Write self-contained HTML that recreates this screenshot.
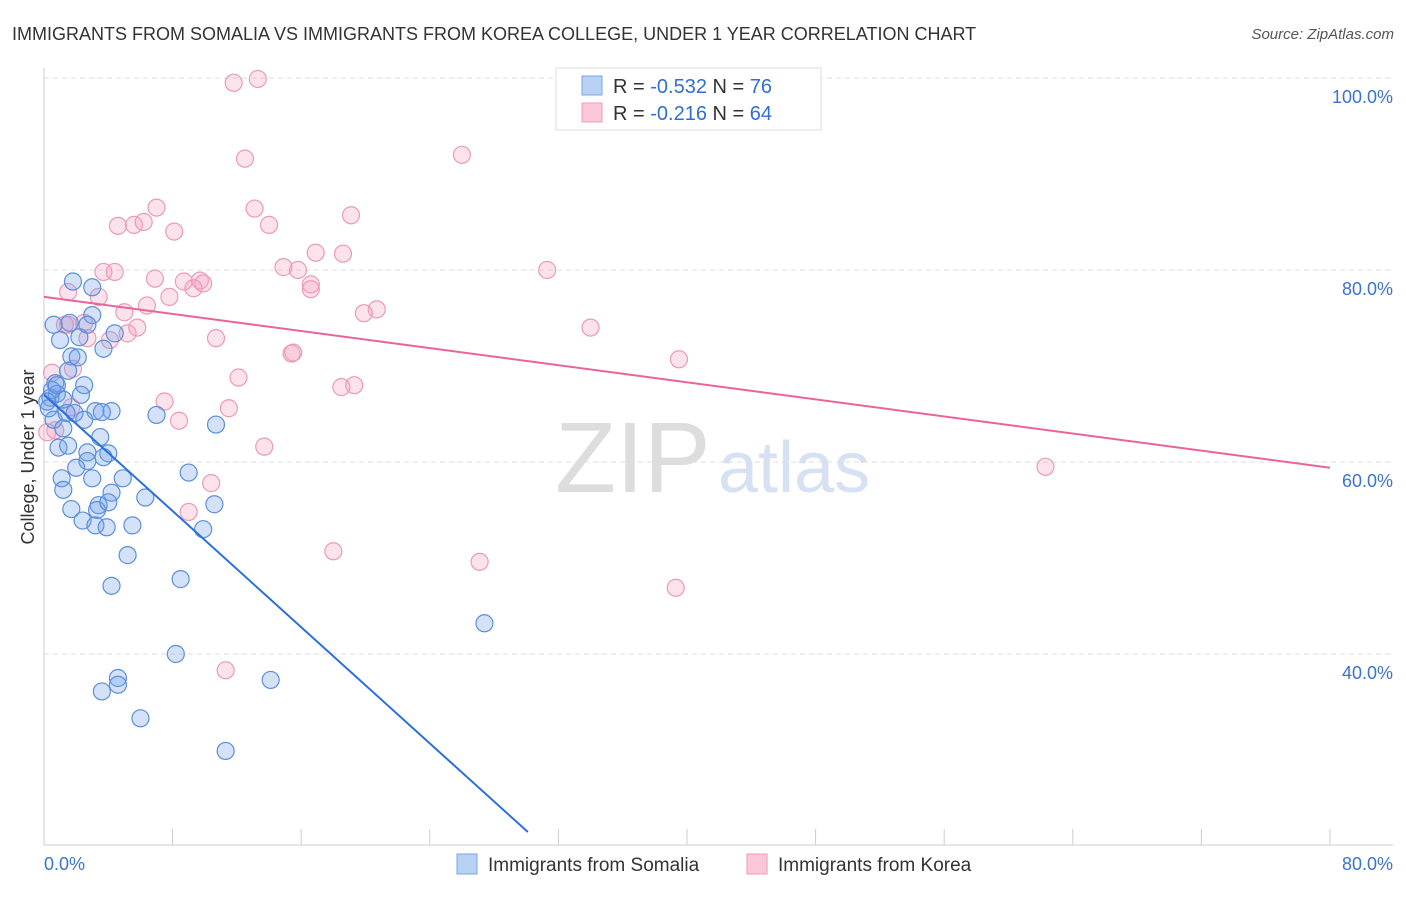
<!DOCTYPE html>
<html><head><meta charset="utf-8"><style>
body{margin:0;background:#fff;font-family:"Liberation Sans",sans-serif}
svg text{font-family:"Liberation Sans",sans-serif}
</style></head><body>
<svg id="c" width="1406" height="892" xmlns="http://www.w3.org/2000/svg">
<text x="12" y="40" font-size="18" fill="#333">IMMIGRANTS FROM SOMALIA VS IMMIGRANTS FROM KOREA COLLEGE, UNDER 1 YEAR CORRELATION CHART</text>
<text x="1394" y="39" font-size="15" fill="#555" text-anchor="end" font-style="italic">Source: ZipAtlas.com</text>
<text transform="translate(34,457) rotate(-90)" font-size="18" fill="#333" text-anchor="middle">College, Under 1 year</text>
<text x="555" y="492" font-size="100" fill="#ddd" font-family="Liberation Serif">ZIP</text>
<text x="718" y="492" font-size="72" fill="#d6e2f3">atlas</text>
<g id="grid"></g><g id="pts"></g><g id="lines"></g>
<g>
<rect x="556" y="68" width="265" height="62" fill="#fff" stroke="#ddd"/>
<rect x="582" y="76" width="20" height="19" fill="#b8d2f5" stroke="#7aa6e6"/>
<rect x="582" y="103" width="20" height="19" fill="#fbc8d8" stroke="#f09ab6"/>
<text x="613" y="93" font-size="20" fill="#333">R = <tspan fill="#2f6fd4">-0.532</tspan>   N = <tspan fill="#2f6fd4">76</tspan></text>
<text x="613" y="120" font-size="20" fill="#333">R =  <tspan fill="#2f6fd4">-0.216</tspan>   N = <tspan fill="#2f6fd4">64</tspan></text>
</g>
<g>
<rect x="457" y="854" width="20" height="20" fill="#b8d2f5" stroke="#7aa6e6"/>
<text x="488" y="871" font-size="19" fill="#333">Immigrants from Somalia</text>
<rect x="747" y="854" width="20" height="20" fill="#fbc8d8" stroke="#f09ab6"/>
<text x="778" y="871" font-size="19" fill="#333">Immigrants from Korea</text>
</g>
</svg>
<script>
const yTicks=[40,60,80,100];
const yTickLabels=["40.0%","60.0%","80.0%","100.0%"];
const xTickLabels=["0.0%","80.0%"];
const blueX=[1.8,3.0,0.6,1.6,3.0,2.7,1.0,2.2,3.7,4.4,1.7,2.1,1.5,0.7,2.5,0.8,0.4,1.2,2.3,3.2,4.2,3.6,1.9,1.4,2.5,0.6,1.2,3.5,0.9,1.5,2.7,4.0,3.7,2.7,2.0,4.9,1.1,3.0,1.2,4.2,3.4,3.3,4.0,1.7,6.3,2.4,3.2,3.9,5.5,9.0,10.6,9.9,7.0,10.7,5.2,8.5,4.2,8.2,4.6,3.6,4.6,14.1,6.0,11.3,27.4,0.5,0.2,0.3,0.8];
const blueY=[78.8,78.2,74.3,74.5,75.3,74.3,72.7,73.0,71.8,73.4,71.0,70.9,69.5,68.2,68.0,67.1,66.7,66.5,67.0,65.3,65.3,65.2,65.1,65.1,64.4,64.4,63.5,62.6,61.5,61.7,61.0,60.9,60.5,60.1,59.4,58.3,58.3,58.3,57.1,56.8,55.5,55.0,55.8,55.1,56.3,53.9,53.4,53.2,53.4,58.9,55.6,53.0,64.9,63.9,50.3,47.8,47.1,40.0,37.5,36.1,36.8,37.3,33.3,29.9,43.2,67.5,66.3,65.6,68.0];
const pinkX=[11.8,13.3,12.5,26.0,7.0,13.1,4.6,5.6,6.2,8.1,14.0,19.1,16.9,18.6,3.7,4.4,6.9,8.7,9.7,9.9,9.3,14.9,15.8,16.6,16.6,31.3,1.5,3.4,7.8,6.4,5.0,1.5,2.5,20.7,19.9,34.0,5.8,5.2,2.7,4.1,10.7,15.4,15.5,39.5,0.5,1.8,12.1,18.5,19.3,7.5,11.5,8.4,13.7,10.4,9.0,18.0,27.1,39.3,11.3,62.3,0.7,0.2,1.3,1.7];
const pinkY=[99.5,99.9,91.6,92.0,86.5,86.4,84.6,84.7,85.0,84.0,84.7,85.7,81.8,81.7,79.8,79.8,79.1,78.8,78.9,78.6,78.1,80.3,80.0,78.5,78.0,80.0,77.7,77.2,77.2,76.3,75.6,74.3,74.5,75.9,75.5,74.0,74.0,73.4,72.9,72.7,72.9,71.3,71.4,70.7,69.3,69.7,68.8,67.8,68.0,66.3,65.6,64.3,61.6,57.8,54.8,50.7,49.6,46.9,38.3,59.5,63.3,63.1,74.3,65.7];
const blueLine=[67.0,-1.513,30.1];   // intercept, slope, xEnd
const pinkLine=[77.2,-0.2225,80];
const NS="http://www.w3.org/2000/svg";
const X=v=>44+v*1286/80, Y=v=>78+(100-v)*9.6;
function mk(t,a,p){const e=document.createElementNS(NS,t);for(const k in a)e.setAttribute(k,a[k]);p.appendChild(e);return e;}
const g=document.getElementById('grid');
yTicks.forEach((t,i)=>{
 const l=mk('line',{x1:44,x2:1393,y1:Y(t),y2:Y(t),stroke:'#ddd','stroke-dasharray':'5,4'},g);
 
 
 const tx=mk('text',{x:1393,y:Y(t)+25,'font-size':18,fill:'#3b73d1','text-anchor':'end'},g);tx.textContent=yTickLabels[i];
 
 
});
const ax=mk('line',{x1:44,x2:44,y1:68,y2:845,stroke:'#ccc'},g);


const bx=mk('line',{x1:44,x2:1393,y1:845,y2:845,stroke:'#ccc'},g);


for(let i=0;i<=10;i++){const t=mk('line',{x1:X(i*8),x2:X(i*8),y1:829,y2:845,stroke:'#ccc'},g);
 
 }
[[0,'start',44],[80,'end',1393]].forEach((d,i)=>{const t=mk('text',{x:d[2],y:870,'font-size':18,fill:'#3b73d1','text-anchor':d[1]},g);t.textContent=xTickLabels[i];
 
 });
const p=document.getElementById('pts');
function pts(xs,ys,f,s,n){xs.forEach((v,i)=>{const c=mk('circle',{cx:X(v),cy:Y(ys[i]),r:8.5,fill:f,stroke:s,'stroke-width':1.2},p);
 
 });}
pts(pinkX,pinkY,'rgba(244,160,190,0.3)','#eb9ab8','point-korea');
pts(blueX,blueY,'rgba(110,160,235,0.3)','#5b8fdb','point-somalia');
const L=document.getElementById('lines');
const bl=mk('line',{x1:X(0),y1:Y(blueLine[0]),x2:X(blueLine[2]),y2:Y(blueLine[0]+blueLine[1]*blueLine[2]),stroke:'#2a6fdb','stroke-width':2},L);


const pl=mk('line',{x1:X(0),y1:Y(pinkLine[0]),x2:X(pinkLine[2]),y2:Y(pinkLine[0]+pinkLine[1]*pinkLine[2]),stroke:'#e8649a','stroke-width':2},L);


</script>
</body></html>
